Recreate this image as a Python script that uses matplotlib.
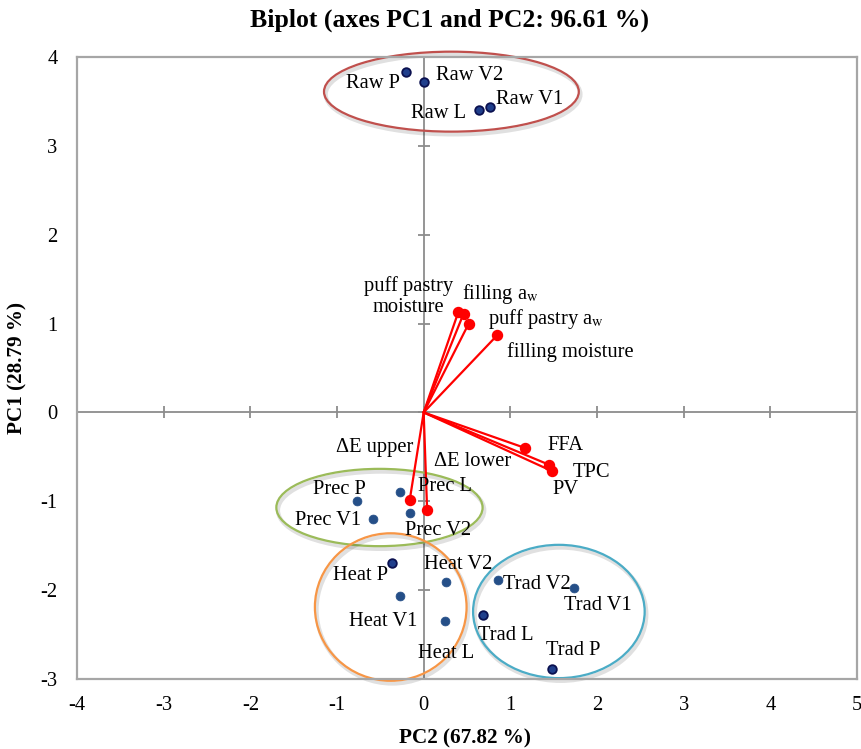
import matplotlib
matplotlib.use("Agg")
import matplotlib.pyplot as plt
from matplotlib.patches import Ellipse
import matplotlib.patheffects as pe

plt.rcParams["font.family"] = ["Liberation Serif", "DejaVu Serif"]
plt.rcParams["mathtext.fontset"] = "stix"

# Observation scores (PC2 on x, PC1 on y)
obs_names = ["Raw P", "Raw V2", "Raw L", "Raw V1",
             "Prec P", "Prec L", "Prec V1", "Prec V2",
             "Heat P", "Heat V2", "Heat V1", "Heat L",
             "Trad V2", "Trad V1", "Trad L", "Trad P"]
obs_pc2 = [-0.20, 0.00, 0.64, 0.76,
           -0.77, -0.27, -0.58, -0.16,
           -0.36, 0.26, -0.27, 0.25,
           0.86, 1.74, 0.68, 1.48]
obs_pc1 = [3.83, 3.72, 3.40, 3.44,
           -1.00, -0.90, -1.20, -1.13,
           -1.70, -1.91, -2.07, -2.35,
           -1.89, -1.98, -2.28, -2.89]
obs_outlined = [True, True, True, True,
                False, False, False, False,
                True, False, False, False,
                False, False, True, True]

# Variable loadings
var_names = ["puff pastry\nmoisture", r"filling a$_\mathrm{w}$",
             r"puff pastry a$_\mathrm{w}$", "filling moisture",
             "FFA", "TPC", "PV", "ΔE upper", "ΔE lower"]
var_pc2 = [0.40, 0.46, 0.52, 0.85, 1.17, 1.45, 1.48, -0.16, 0.04]
var_pc1 = [1.13, 1.11, 1.00, 0.87, -0.40, -0.59, -0.66, -0.98, -1.10]

# Label placement (pixel offsets from each mark, baseline anchored)
obs_label_offsets = [(-33, 16), (46, -2), (-41, 8), (40, -3),
                     (-17, -7), (45, -1), (-45, 6), (28, 22),
                     (-32, 17), (12, -13), (-17, 30), (1, 37),
                     (39, 9), (23, 22), (23, 25), (21, -14)]
var_label_offsets = [(-50, 0), (37, -15), (77, 0), (73, 22),
                     (40, 2), (42, 12), (14, 23), (-35, -48), (45, -44)]

# Group ellipses: centre (PC2, PC1), width, height, colour
groups = [((0.32, 3.61), 2.94, 0.90, "#C0504D"),
          ((-0.51, -1.07), 2.38, 0.87, "#9BBB59"),
          ((-0.38, -2.19), 1.75, 1.66, "#F79646"),
          ((1.56, -2.24), 1.98, 1.50, "#4BACC6")]

x_ticks = [-4, -3, -2, -1, 0, 1, 2, 3, 4, 5]
y_ticks = [-3, -2, -1, 0, 1, 2, 3, 4]

fig = plt.figure(figsize=(8.61, 7.49), dpi=100)
ax = fig.add_axes([77 / 861, 70 / 749, 780 / 861, 622 / 749])
ax.set_xlim(-4, 5)
ax.set_ylim(-3, 4)

for s in ax.spines.values():
    s.set_color("#A6A6A6")
    s.set_linewidth(1.6)

ax.set_xticks(x_ticks)
ax.set_yticks(y_ticks)
ax.tick_params(axis="both", length=0, labelsize=14.8)
ax.tick_params(axis="x", pad=12)
ax.tick_params(axis="y", pad=14)
ax.set_xticklabels([str(v) for v in x_ticks])
ax.set_yticklabels([str(v) for v in y_ticks])

# Zero axes with cross ticks
axis_col = "#8C8C8C"
ax.axhline(0, color=axis_col, lw=1.3, zorder=1)
ax.axvline(0, color=axis_col, lw=1.3, zorder=1)
ax.plot([0] * len(y_ticks), y_ticks, ls="none", marker="_", ms=9,
        mew=1.3, color=axis_col, zorder=1, clip_on=False)
ax.plot(x_ticks, [0] * len(x_ticks), ls="none", marker="|", ms=9,
        mew=1.3, color=axis_col, zorder=1, clip_on=False)

# Group ellipses with a soft outline shadow
for (cx, cy), w, h, col in groups:
    e = Ellipse((cx, cy), w, h, fill=False, edgecolor=col, lw=1.6,
                zorder=2, clip_on=False)
    e.set_path_effects([pe.SimpleLineShadow(offset=(1.2, -2.0),
                                            shadow_color="#000000",
                                            alpha=0.12, linewidth=3.0),
                        pe.Normal()])
    ax.add_patch(e)

# Loading vectors
for x, y in zip(var_pc2, var_pc1):
    ax.plot([0, x], [0, y], color="#FF0000", lw=1.6, zorder=3,
            solid_capstyle="round")
ax.plot(var_pc2, var_pc1, ls="none", marker="o", ms=7.2,
        color="#FF0000", zorder=4)

for name, x, y, (dx, dy) in zip(var_names, var_pc2, var_pc1,
                                var_label_offsets):
    ax.annotate(name, (x, y), xytext=(dx, -dy), textcoords="offset pixels",
                ha="center", va="baseline", fontsize=14.8,
                linespacing=1.15, zorder=6, multialignment="center")

# Observations
for x, y, outl in zip(obs_pc2, obs_pc1, obs_outlined):
    if outl:
        ax.plot(x, y, ls="none", marker="o", ms=6.2, mfc="#203F8C",
                mec="#0B1150", mew=1.3, zorder=5)
    else:
        ax.plot(x, y, ls="none", marker="o", ms=6.4, mfc="#254F88",
                mec="#254F88", mew=0.5, zorder=5)

for name, x, y, (dx, dy) in zip(obs_names, obs_pc2, obs_pc1,
                                obs_label_offsets):
    ax.annotate(name, (x, y), xytext=(dx, -dy), textcoords="offset pixels",
                ha="center", va="baseline", fontsize=14.8, zorder=6)

fig.text(449.5 / 861, 1 - 20 / 749, "Biplot (axes PC1 and PC2: 96.61 %)",
         ha="center", va="center", fontsize=18.5, fontweight="bold")
fig.text(465 / 861, 1 - 738 / 749, "PC2 (67.82 %)", ha="center",
         va="center", fontsize=15.2, fontweight="bold")
fig.text(17 / 861, 1 - 368 / 749, "PC1 (28.79 %)", ha="center",
         va="center", rotation=90, fontsize=15.2, fontweight="bold")

fig.savefig("out.png", dpi=100)
